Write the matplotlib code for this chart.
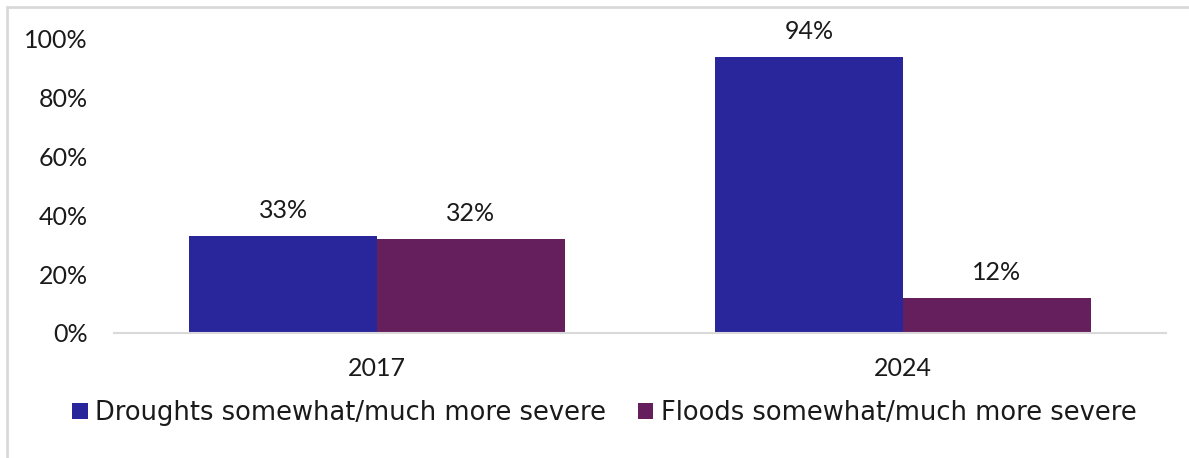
import matplotlib.pyplot as plt
import matplotlib.patches as mpatches
import numpy as np

years = ['2017', '2024']
droughts = [33, 94]
floods = [32, 12]
series_names = ['Droughts somewhat/much more severe', 'Floods somewhat/much more severe']
colors = ['#29259B', '#641F5C']

plt.rcParams['font.family'] = ['Lato', 'DejaVu Sans']

fig = plt.figure(figsize=(11.89, 4.58), dpi=100)
W, H = 1189, 458

# light frame, cut at right/bottom like the source
fig.patches.append(mpatches.Rectangle((7 / W, -0.05), 1.1, 1 - 7 / H + 0.05,
                                      transform=fig.transFigure, fill=False,
                                      edgecolor='#d9d9d9', linewidth=2))

ax = fig.add_axes([114 / W, (H - 333) / H, (1166 - 114) / W, (333 - 39) / H])

x = np.arange(len(years))
w = 0.357
b1 = ax.bar(x - w / 2, droughts, w, color=colors[0], label=series_names[0])
b2 = ax.bar(x + w / 2, floods, w, color=colors[1], label=series_names[1])

for bars, vals in [(b1, droughts), (b2, floods)]:
    for r, v in zip(bars, vals):
        ax.annotate(f'{v}%', (r.get_x() + r.get_width() / 2, v),
                    xytext=(0, 10), textcoords='offset points',
                    ha='center', va='bottom', fontsize=18, color='#1a1a1a')

ax.set_xlim(-0.5, 1.5)
ax.set_ylim(0, 100)
ax.set_xticks(x)
ax.set_xticklabels(years)
ax.set_yticks([0, 20, 40, 60, 80, 100])
ax.set_yticklabels([f'{t}%' for t in [0, 20, 40, 60, 80, 100]])
ax.tick_params(axis='both', length=0, labelsize=18, colors='#1a1a1a')
ax.tick_params(axis='y', pad=19)
ax.tick_params(axis='x', pad=17)
for s in ['top', 'right', 'left']:
    ax.spines[s].set_visible(False)
ax.spines['bottom'].set_color('#d9d9d9')
ax.spines['bottom'].set_linewidth(1.5)

leg = ax.legend(loc='center left', bbox_to_anchor=(62 / W, (H - 413) / H),
                bbox_transform=fig.transFigure, ncol=2, frameon=False,
                prop={'family': 'DejaVu Sans', 'size': 18.5},
                handlelength=0.6, handleheight=0.6,
                handletextpad=0.28, columnspacing=1.25, borderaxespad=0)
for t in leg.get_texts():
    t.set_color('#1a1a1a')

fig.savefig('out.png', dpi=100)
